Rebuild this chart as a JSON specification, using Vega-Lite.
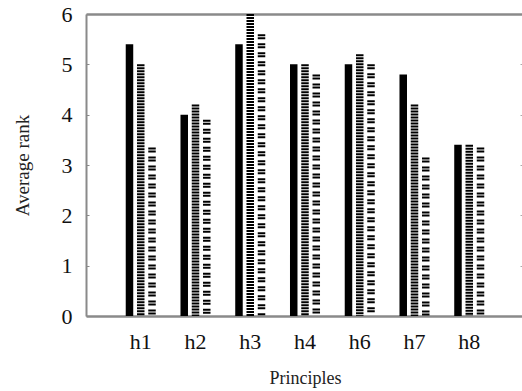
{
  "$schema": "https://vega.github.io/schema/vega-lite/v6.json",
  "autosize": "none",
  "padding": {"left": 86, "top": 14, "right": -2, "bottom": 75},
  "width": 438,
  "height": 302,
  "background": "white",
  "config": {
    "view": {"stroke": "transparent", "strokeOpacity": 0, "strokeWidth": 0},
    "font": "Liberation Serif"
  },
  "data": {
    "values": [
      {"principle": "h1", "series": "s1", "value": 5.4},
      {"principle": "h1", "series": "s2", "value": 5.0},
      {"principle": "h1", "series": "s3", "value": 3.35},
      {"principle": "h2", "series": "s1", "value": 4.0},
      {"principle": "h2", "series": "s2", "value": 4.2},
      {"principle": "h2", "series": "s3", "value": 3.9},
      {"principle": "h3", "series": "s1", "value": 5.4},
      {"principle": "h3", "series": "s2", "value": 6.0},
      {"principle": "h3", "series": "s3", "value": 5.6},
      {"principle": "h4", "series": "s1", "value": 5.0},
      {"principle": "h4", "series": "s2", "value": 5.0},
      {"principle": "h4", "series": "s3", "value": 4.8},
      {"principle": "h6", "series": "s1", "value": 5.0},
      {"principle": "h6", "series": "s2", "value": 5.2},
      {"principle": "h6", "series": "s3", "value": 5.0},
      {"principle": "h7", "series": "s1", "value": 4.8},
      {"principle": "h7", "series": "s2", "value": 4.2},
      {"principle": "h7", "series": "s3", "value": 3.15},
      {"principle": "h8", "series": "s1", "value": 3.4},
      {"principle": "h8", "series": "s2", "value": 3.4},
      {"principle": "h8", "series": "s3", "value": 3.35}
    ]
  },
  "layer": [
    {
      "mark": {"type": "rule", "strokeWidth": 7.5, "color": "black", "strokeCap": "butt"},
      "encoding": {
        "x": {
          "field": "principle", "type": "nominal",
          "scale": {"type": "band", "paddingInner": 0, "paddingOuter": 0.5},
          "axis": {
            "title": "Principles", "titleFontSize": 18, "titleFontWeight": "normal",
            "titleColor": "#222", "titlePadding": 17,
            "labelFontSize": 22, "labelColor": "#111", "labelAngle": 0, "labelPadding": 15,
            "ticks": false, "domainColor": "#8a8a8a", "domainWidth": 2.5
          }
        },
        "xOffset": {
          "field": "series", "type": "nominal",
          "scale": {"paddingInner": 0, "paddingOuter": 0.93}
        },
        "y": {
          "field": "value", "type": "quantitative",
          "scale": {"domain": [0, 6], "nice": false},
          "axis": {
            "title": "Average rank", "titleFontSize": 19, "titleFontWeight": "normal",
            "titleColor": "#222", "titlePadding": 29,
            "labelFontSize": 22, "labelColor": "#111", "labelPadding": 17,
            "values": [0, 1, 2, 3, 4, 5, 6], "grid": false,
            "tickSize": -3, "tickColor": "#8a8a8a", "tickWidth": 1,
            "domainColor": "#8a8a8a", "domainWidth": 2
          }
        },
        "y2": {"datum": 0},
        "strokeDash": {
          "field": "series", "type": "nominal",
          "scale": {"domain": ["s1", "s2", "s3"], "range": [[1, 0], [2, 1], [2, 1, 2, 4]]},
          "legend": null
        }
      }
    },
    {
      "mark": {"type": "rule", "opacity": 0, "strokeOpacity": 0},
      "encoding": {
        "x": {
          "field": "principle", "type": "nominal",
          "axis": {
            "orient": "top", "title": null, "labels": false, "ticks": false,
            "domainColor": "#8a8a8a", "domainWidth": 2.5
          }
        },
        "y": {
          "field": "value", "type": "quantitative",
          "axis": {
            "orient": "right", "title": null, "labels": false, "domain": false,
            "values": [1, 2, 3, 4, 5], "grid": false,
            "tickSize": -4, "tickColor": "#aaa", "tickWidth": 1
          }
        }
      }
    }
  ],
  "resolve": {"axis": {"x": "independent", "y": "independent"}}
}
